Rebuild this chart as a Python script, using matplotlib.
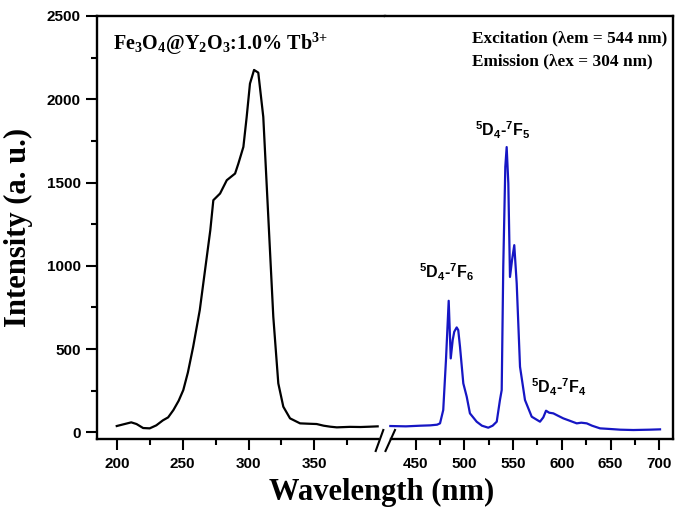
import matplotlib
matplotlib.use("Agg")
import matplotlib.pyplot as plt
from matplotlib.lines import Line2D
from matplotlib.ticker import FixedLocator

plt.rcParams['mathtext.default'] = 'regular'

# excitation spectrum (lambda_em = 544 nm)
exc_wl = [200, 205, 211, 215, 220, 225, 230, 235, 239, 243, 247, 250.5, 254, 258, 263, 268,
          271, 273.3, 278.4, 283.5, 289.8, 292.3, 296.1, 298.6, 301.1, 304.2, 307.4, 311.2,
          315, 318.8, 322.6, 326.4, 331.5, 339.1, 345, 351.7, 357, 362, 367, 377, 385, 392, 398]
exc_int = [38, 48, 60, 50, 26, 24, 42, 72, 90, 134, 190, 254, 360, 514, 734, 1034,
           1214, 1394, 1434, 1514, 1554, 1614, 1714, 1894, 2094, 2176, 2160, 1894,
           1294, 694, 294, 154, 84, 54, 52, 50, 40, 34, 30, 33, 32, 34, 36]

# emission spectrum (lambda_ex = 304 nm)
emi_wl = [424, 440, 455, 465, 472, 475, 478.3, 481.1, 483.9, 486.0, 488.0, 489.6, 492.1, 493.7,
          495.5, 498.9, 502.4, 505.7, 512.6, 518, 524.5, 529, 533.2, 536.5, 538.3, 539.9, 542,
          543.4, 545.1, 546.8, 548.9, 551.2, 553.7, 557.1, 562.2, 569.1, 577.6, 581, 583.8,
          587, 591.3, 596, 601.5, 608, 615.3, 620, 625.6, 631, 639.2, 650, 660, 673.4, 690, 700.8]
emi_int = [38, 36, 40, 42, 46, 54, 134, 434, 790, 444, 554, 604, 630, 614,
           514, 294, 214, 114, 64, 40, 28, 40, 64, 194, 254, 994, 1594,
           1713, 1494, 933, 1034, 1124, 894, 394, 194, 94, 64, 90, 130,
           118, 114, 100, 84, 70, 54, 58, 54, 40, 24, 20, 16, 14, 16, 18]

left_ticks = [200, 250, 300, 350]
left_minor = [225, 275, 325, 375]
right_ticks = [450, 500, 550, 600, 650, 700]
right_minor = [475, 525, 575, 625, 675]
y_ticks = [0, 500, 1000, 1500, 2000, 2500]
y_minor = [250, 750, 1250, 1750, 2250]

sans = 'Liberation Sans'
serif = 'Liberation Serif'
blue = '#1616c4'

fig = plt.figure(figsize=(6.85, 5.16), dpi=100)
ax1 = fig.add_axes([0.1412, 0.1492, 0.4209, 0.8198])
ax2 = fig.add_axes([0.5620, 0.1492, 0.4209, 0.8198])

ax1.plot(exc_wl, exc_int, color='black', lw=1.6)
ax2.plot(emi_wl, emi_int, color=blue, lw=1.6)

for ax in (ax1, ax2):
    ax.set_ylim(-40, 2500)
    for s in ax.spines.values():
        s.set_linewidth(1.7)
    ax.tick_params(which='major', direction='out', length=8, width=1.5, pad=5)
    ax.tick_params(which='minor', direction='out', length=4.5, width=1.5)

ax1.set_xlim(184.8, 403.6)
ax2.set_xlim(418.5, 714.4)

ax1.set_xticks(left_ticks)
ax1.xaxis.set_minor_locator(FixedLocator(left_minor))
ax2.set_xticks(right_ticks)
ax2.xaxis.set_minor_locator(FixedLocator(right_minor))
ax1.set_yticks(y_ticks)
ax1.yaxis.set_minor_locator(FixedLocator(y_minor))
ax1.tick_params(axis='y', which='major', pad=3.5)

# broken axis: hide the inner spines, shorten the bottom ones
ax1.spines['right'].set_visible(False)
ax2.spines['left'].set_visible(False)
ax2.tick_params(axis='y', which='both', left=False, labelleft=False)
ax1.spines['bottom'].set_bounds(184.8, 398.3)
ax2.spines['bottom'].set_bounds(424.6, 714.4)

for ax in (ax1, ax2):
    for lab in ax.get_xticklabels() + ax.get_yticklabels():
        lab.set_fontfamily(sans)
        lab.set_fontweight('bold')
        lab.set_fontsize(11)

# axis break marks
W, H = 685.0, 516.0
for x0, x1 in [(375.7, 383.3), (385.5, 395.0)]:
    fig.add_artist(Line2D([x0 / W, x1 / W], [1 - 451 / H, 1 - 430 / H],
                          transform=fig.transFigure, color='black', lw=1.5))

fig.text(382 / W, 1 - 500 / H, 'Wavelength (nm)', family=serif, weight='bold',
         fontsize=22, ha='center', va='baseline')
fig.text(18 / W, 0.1492 + 0.8198 / 2, 'Intensity (a. u.)', family=serif, weight='bold',
         fontsize=22, ha='center', va='center', rotation=90)

ax1.text(197.2, 2300, r'Fe$_3$O$_4$@Y$_2$O$_3$:1.0% Tb$^{3{+}}$', family=serif,
         weight='bold', fontsize=14.5, ha='left', va='baseline')
ax2.text(507.8, 2344, 'Excitation (λem = 544 nm)', family=serif, weight='bold',
         fontsize=12.4, ha='left', va='baseline')
ax2.text(507.8, 2204, 'Emission (λex = 304 nm)', family=serif, weight='bold',
         fontsize=12.4, ha='left', va='baseline')

ax2.text(539.6, 1777, r'$^5$D$_4$-$^7$F$_5$', family=sans, weight='bold',
         fontsize=11.5, ha='center', va='baseline')
ax2.text(482, 926, r'$^5$D$_4$-$^7$F$_6$', family=sans, weight='bold',
         fontsize=11.5, ha='center', va='baseline')
ax2.text(597, 236, r'$^5$D$_4$-$^7$F$_4$', family=sans, weight='bold',
         fontsize=11.5, ha='center', va='baseline')

fig.savefig('out.png', dpi=100)
